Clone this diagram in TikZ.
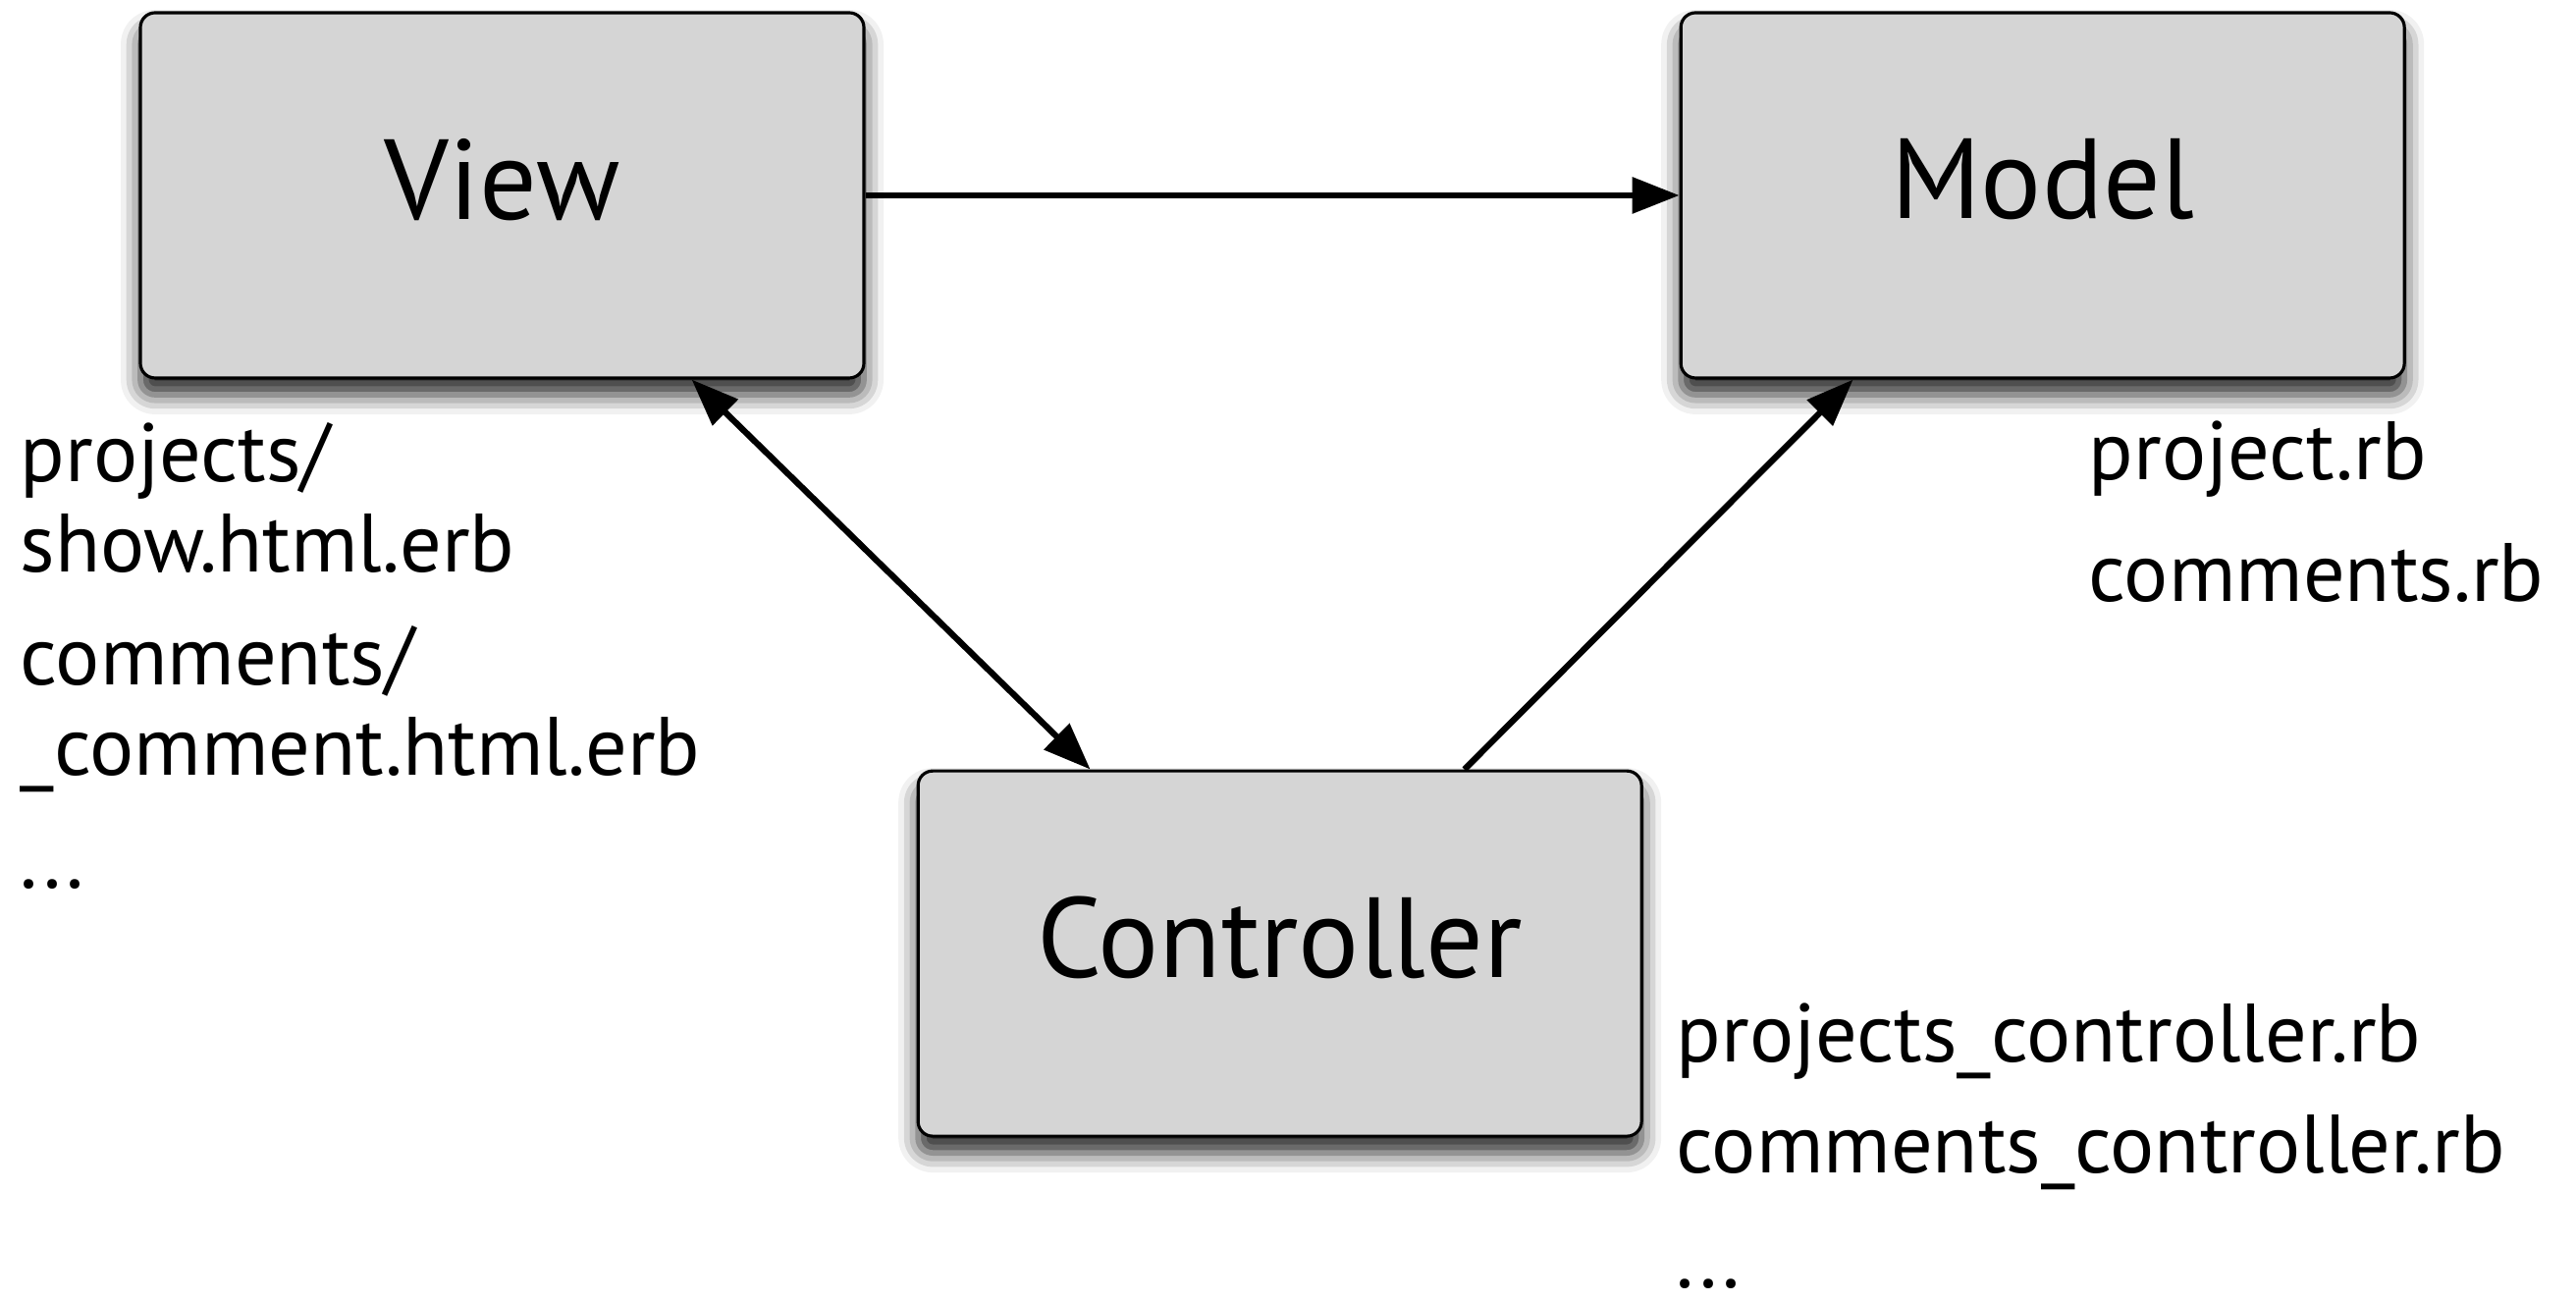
\documentclass[tikz,border=0pt]{standalone}
\usepackage{fontspec}
\setmainfont{PT Sans}
\usetikzlibrary{arrows.meta,positioning,shadows.blur}
\definecolor{boxgray}{HTML}{D5D5D5}

\begin{document}
\begin{tikzpicture}[
    node distance=1cm,
    >={Triangle[length=0.48cm, width=0.36cm]},
    layer/.style={rectangle, draw, line width=0.9pt, fill=boxgray, rounded corners=0.15cm, minimum width=7.37cm, minimum height=3.72cm, inner sep=0pt, text depth=0.34cm, font=\fontsize{33}{40}\selectfont, blur shadow={shadow xshift=0pt, shadow yshift=-0.17cm, shadow blur radius=0.2cm, shadow opacity=85}},
    files/.style={anchor=base west, align=left, inner sep=0pt, font=\fontsize{24}{26.2}\selectfont},
    link/.style={line width=1.8pt}
]
\useasboundingbox (0,0) rectangle (26.24,13.26);

\node[layer] (view) at (5.115,11.27) {View};
\node[layer, right=8.29cm of view] (model) {Model};
\node[layer, below right=3.97cm and 0.52cm of view] (controller) {Controller};

\draw[link, ->] (view) -- (model);
\draw[link, <->] ([xshift=-1.77cm]view.south east) -- ([xshift=1.77cm]controller.north west);
\draw[link, ->] ([xshift=-1.82cm]controller.north east) -- ([xshift=1.77cm]model.south west);

% file lists next to each box (anchored on their last line)
\node[files] (viewfiles) at (0.20,4.21) {projects/\\show.html.erb\\[0.23cm]comments/\\\_comment.html.erb\\[0.23cm]...};
\node[files] (modelfiles) at (21.27,7.13) {project.rb\\[0.32cm]comments.rb};
\node[files] (ctrlfiles) at (17.07,0.14) {projects\_controller.rb\\[0.21cm]comments\_controller.rb\\[0.25cm]...};

\end{tikzpicture}
\end{document}
